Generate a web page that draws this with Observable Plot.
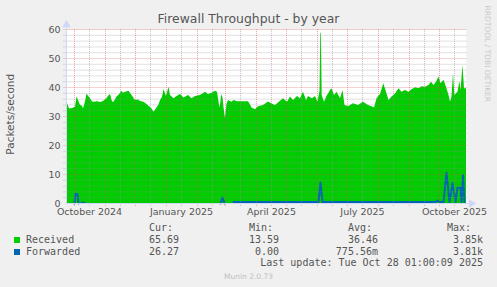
<!DOCTYPE html>
<html><head><meta charset="utf-8">
<script src="https://cdn.jsdelivr.net/npm/d3@7"></script>
<script src="https://cdn.jsdelivr.net/npm/@observablehq/plot@0.6"></script>
<style>
body{margin:0;background:#f0f0f0;}
#wrap{position:relative;width:497px;height:287px;overflow:hidden;background:#f0f0f0;font-family:"DejaVu Sans";}
#chart{position:absolute;left:0;top:0;}
.t{position:absolute;white-space:pre;line-height:1;}
.mono{font-family:"DejaVu Sans Mono";font-size:10px;color:#555;}
</style></head>
<body><div id="wrap"><div id="chart"></div></div>
<script>
// ---- data ----
const title = "Firewall Throughput - by year";
const yLabel = "Packets/second";
const startDay = "2024-09-23";   // left edge of the 400-day window
const endDay = 400;              // last update: Oct 28 2025
const yTicks = [0, 10, 20, 30, 40, 50, 60];
const xLabelMonths = ["2024-10", "2025-01", "2025-04", "2025-07", "2025-10"];
// [day offset from startDay, packets/second]
const received = [
  [0,35.3],[1,34.5],[3,32.6],[6,32.8],[9,33.2],[10.5,36.7],[12,35.5],[14,33.8],[16,33.5],[17,32.6],
  [19,35],[20.5,37.8],[22,37],[24,36.1],[26,35],[28,34.9],[31,35.1],[34,34.8],[37,35.2],[39,35.8],
  [40.5,36.1],[42,37],[44,37.6],[46,35],[47.5,34.9],[49,35.8],[50.5,36.7],[53,37.5],[55.5,38.7],[57,38],
  [59,38.4],[62.5,38.7],[65.5,37.2],[69,35.5],[72,35.7],[74,35.2],[77.5,34.9],[80.5,34.1],[83,33.4],[85.5,32.6],
  [87.5,31.5],[90.5,32.9],[92.5,34],[94,35.5],[96,36.6],[97.5,39.2],[100,36.9],[102.5,40.1],[104,37.2],[107.5,36.1],
  [110.5,36.9],[114,37.6],[117.5,36.4],[122,37.2],[125.5,36.1],[129,36.9],[134,37.2],[139,38.4],[142,37.6],[145.5,38.0],
  [149,38.7],[151,38.4],[152.5,35],[153.3,32.9],[154.5,35],[155,37.6],[156.5,36.4],[157.5,33],[159,29.2],[160.5,34.2],
  [162,35.5],[165.5,34.9],[167.5,35.5],[171,35.1],[176,35.1],[182,35.1],[184,34],[185.5,32.9],[189,32.3],[192,33.4],
  [197,33.8],[202,35.0],[206,34.2],[209,33.8],[214,35.3],[217,36.1],[221,34.9],[224,36.7],[227,35.5],[231,36.9],
  [234,36.1],[237,38.4],[240,35.5],[242,36.9],[246,36.1],[249,36.9],[251.5,34.9],[253.5,38.7],[254.3,58.7],[254.9,58.7],
  [255.7,37.2],[258,34.9],[260.5,36.9],[264,39],[265.5,39.6],[268,37.2],[270.5,38.4],[274,36.1],[276.5,39],[278.5,33.8],
  [282,33.4],[287,34.4],[292,33.8],[297,34.9],[302,33.8],[305.5,33.4],[308,32.9],[310.5,36.1],[314,37.6],[317.3,41.3],
  [320,38.4],[322.5,35.5],[325.5,36.7],[329,37.8],[332.5,39.6],[335.5,38.4],[339,39],[342.5,38.4],[345.5,39.2],[349,39.9],
  [352.5,39.6],[355.5,40.3],[359,40.1],[362.5,40.7],[365,41.8],[367.5,40.7],[370,41.8],[372.5,43.6],[374.5,41.3],[377.5,42.5],
  [380,40.1],[382.5,37.2],[384,34.9],[385.5,36.7],[387,44.7],[388.3,37.2],[391.5,38.4],[393.3,42.1],[394.5,39],[396.5,47.6],
  [398,39.6],[400,39.6]
];
const forwarded = [
  [8,0],[9,3.3],[11,3.3],[12,0],[13,null],
  [15,0.3],[18,0.3],[19,null],
  [154,0],[156,2.0],[158,0],[159,null],
  [167,0.5],[200,0.5],[252,0.5],[254,7.2],[256,0.5],[300,0.5],[369,0.5],[371,1.0],[373,0.5],[377,0.5],
  [380,10.6],[383,0.5],[386,7.1],[389,0.5],[391,5.4],[394,5.4],[395,0.5],[396.5,9.7],[398,0.5]
];
const series = ["Received", "Forwarded"];
const seriesColors = ["#00cc00", "#0066b3"];
const statHeads = ["Cur:", "Min:", "Avg:", "Max:"];
const statValues = [["65.69", "13.59", "36.46", "3.85k"], ["26.27", "0.00", "775.56m", "3.81k"]];
const lastUpdate = "Last update: Tue Oct 28 01:00:09 2025";
const footer = "Munin 2.0.73";
const watermark = "RRDTOOL / TOBI OETIKER";

// ---- build ----
const start = new Date(startDay + "T00:00:00Z");
const toDate = d => new Date(start.getTime() + d * 864e5);
const recData = received.map(([d, v]) => ({date: toDate(d), value: v}));
const fwdData = forwarded.map(([d, v]) => ({date: toDate(d), value: v}));
const end = toDate(endDay);
const yMinor = d3.range(2, 60, 2).filter(v => v % 10 !== 0);
const monthStarts = d3.utcMonth.range(d3.utcMonth.ceil(start), end);
const monthMids = d3.utcMonth.range(d3.utcMonth.floor(start), end).map(m => d3.utcDay.offset(m, 15)).filter(d => d > start && d < end);
const labelDates = xLabelMonths.map(m => d3.utcDay.offset(new Date(m + "-01T00:00:00Z"), 15));
const gridC = "#8f8f8f", mgridC = "#de4f4f", axisC = "#cfd6f8";

const chart = Plot.plot({
  width: 497, height: 287,
  marginLeft: 66, marginRight: 31, marginTop: 29, marginBottom: 84,
  style: {background: "transparent", fontFamily: "DejaVu Sans", color: "#555", overflow: "visible"},
  x: {type: "utc", domain: [start, end]},
  y: {domain: [0, 60]},
  marks: [
    Plot.frame({fill: "white", stroke: "none"}),
    Plot.areaY(recData, {x: "date", y: "value", fill: seriesColors[0]}),
    Plot.lineY(fwdData, {x: "date", y: "value", stroke: seriesColors[1], strokeWidth: 2}),
    Plot.ruleY(yMinor, {x1: toDate(-2.5), x2: toDate(401.5), stroke: gridC, strokeOpacity: 0.55, strokeDasharray: "1,1"}),
    Plot.ruleX(monthMids, {y1: -1, y2: 60, stroke: gridC, strokeOpacity: 0.55, strokeDasharray: "1,1"}),
    Plot.ruleY(yTicks.slice(1), {x1: toDate(-2.5), x2: toDate(401.5), stroke: mgridC, strokeOpacity: 0.5, strokeDasharray: "1,1"}),
    Plot.ruleX(monthStarts, {y1: -1, y2: 60, stroke: mgridC, strokeOpacity: 0.5, strokeDasharray: "1,1"}),
    Plot.ruleX([start], {y1: 0, y2: 61.5, stroke: axisC}),
    Plot.ruleY([0], {x1: start, x2: toDate(403), stroke: axisC}),
    Plot.dot([{x: start, y: 61.6}], {x: "x", y: "y", symbol: "triangle", r: 3.2, fill: axisC, stroke: "none"}),
    Plot.dot([{x: toDate(405), y: 0}], {x: "x", y: "y", symbol: "triangle", r: 3.2, rotate: 90, fill: axisC, stroke: "none"}),
    Plot.axisY(yTicks, {tickSize: 0, tickPadding: 6, fontSize: 9.5, label: null}),
    Plot.axisX(labelDates, {tickSize: 0, tickPadding: 5, fontSize: 9.5, tickFormat: d3.utcFormat("%B %Y"), label: null})
  ]
});
document.getElementById("chart").appendChild(chart);

const wrap = document.getElementById("wrap");
function addText(txt, css, cls) {
  const el = document.createElement("div");
  el.className = "t " + (cls || "");
  el.textContent = txt;
  Object.assign(el.style, css);
  wrap.appendChild(el);
  return el;
}
// title
addText(title, {left: "0", width: "497px", textAlign: "center", top: "12.6px", fontSize: "12.4px", color: "#555"});
// y label (rotated)
addText(yLabel, {left: (10.4 - 100) + "px", width: "200px", textAlign: "center", top: (114 - 5.25) + "px", fontSize: "10.5px", color: "#555", transform: "rotate(-90deg)"});
// watermark
addText(watermark, {left: (486.6 - 100) + "px", width: "200px", textAlign: "center", top: (53.5 - 3.75) + "px", fontSize: "7.5px", color: "#c8c8c8", transform: "rotate(90deg)"});
// legend
const headLeft = [149, 249, 348, 447];
const valRight = [179, 279, 378, 483];
statHeads.forEach((h, i) => addText(h, {left: headLeft[i] + "px", top: "222.5px"}, "mono"));
series.forEach((s, r) => {
  const top = 234.5 + r * 12;
  const sq = document.createElement("div");
  Object.assign(sq.style, {position: "absolute", left: "14px", top: (237 + r * 12) + "px", width: "6px", height: "6px", background: seriesColors[r]});
  wrap.appendChild(sq);
  addText(s, {left: "26px", top: top + "px"}, "mono");
  statValues[r].forEach((v, i) => addText(v, {right: (497 - valRight[i]) + "px", top: top + "px"}, "mono"));
});
addText(lastUpdate, {right: (497 - 483) + "px", top: "257.5px"}, "mono");
addText(footer, {left: "0", width: "497px", textAlign: "center", top: "272.6px", fontSize: "7.5px", color: "#c0c0c0"});
</script>
</body></html>
